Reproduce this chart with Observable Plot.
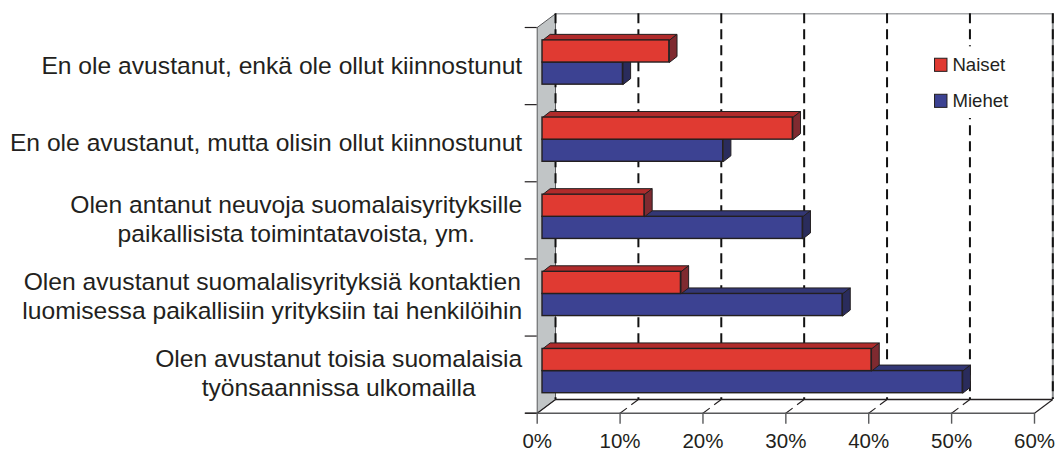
<!DOCTYPE html>
<html><head><meta charset="utf-8">
<script src="https://cdn.jsdelivr.net/npm/d3@7"></script>
<script src="https://cdn.jsdelivr.net/npm/@observablehq/plot@0.6"></script>
<style>html,body{margin:0;padding:0;background:#fff}svg{display:block}</style>
</head><body><div id="chart"></div>
<script>
const labelLines = [
  ["En ole avustanut, enkä ole ollut kiinnostunut"],
  ["En ole avustanut, mutta olisin ollut kiinnostunut"],
  ["Olen antanut neuvoja suomalaisyrityksille","paikallisista toimintatavoista, ym."],
  ["Olen avustanut suomalalisyrityksiä kontaktien","luomisessa paikallisiin yrityksiin tai henkilöihin"],
  ["Olen avustanut toisia suomalaisia","työnsaannissa ulkomailla"]
];
const naiset = [15.3, 30.2, 12.3, 16.7, 39.7];
const miehet = [9.7, 21.8, 31.4, 36.2, 50.7];
const xTicks = [0, 10, 20, 30, 40, 50, 60];
const yTicks = [0, 1, 2, 3, 4, 5];
const seriesNames = ["Naiset", "Miehet"];

const FONT = '"Liberation Sans", Arial, sans-serif';
const C = {ink:"#231f20", line:"#58595b", wall:"#c1c5c6",
  red:"#e03a32", redTop:"#b02b2b", redSide:"#7f2a30",
  blue:"#3c4292", blueTop:"#333775", blueSide:"#2a2c5c"};

const xRange = [536.7, 1034], yRange = [27, 412.7];
const backX = 2.21, backY = 0.178;          // depth of the box, in scale units
const barX = 0.64, barY = 0.046;            // bars start this far into the box
const depthX = 0.93, depthY = 0.078;        // depth of each bar
const barH = 0.287;

function bars(values, sign, order){
  return values.map((v,i)=>{
    const x0 = barX, x1 = barX+v, c = i+0.5-barY;
    const y0 = sign<0 ? c-barH : c, y1 = sign<0 ? c : c+barH;
    return {id:order+i, x0, x1, y0, y1,
      top:[[x0,y0],[x0+depthX,y0-depthY],[x1+depthX,y0-depthY],[x1,y0],[x0,y0]],
      side:[[x1,y0],[x1+depthX,y0-depthY],[x1+depthX,y1-depthY],[x1,y1],[x1,y0]]};
  });
}
const flat = (rows,key)=>rows.flatMap(r=>r[key].map(p=>({id:r.id,x:p[0],y:p[1]})));
const red = bars(naiset,-1,"n"), blue = bars(miehet,1,"m");

function barMarks(rows, front, top, side){
  return [
    Plot.line(flat(rows,"top"),{x:"x",y:"y",z:"id",fill:top,stroke:C.ink,strokeWidth:1,curve:"linear"}),
    Plot.line(flat(rows,"side"),{x:"x",y:"y",z:"id",fill:side,stroke:C.ink,strokeWidth:1,curve:"linear"}),
    Plot.rect(rows,{x1:"x0",x2:"x1",y1:"y0",y2:"y1",fill:front,stroke:C.ink,strokeWidth:1.4})
  ];
}

const ctx = document.createElement("canvas").getContext("2d");
const LABEL_SIZE = 24.65;
ctx.font = `${LABEL_SIZE}px "Liberation Sans"`;
const RIGHT_GAP = 15, LEADING = 29;
const labelMarks = labelLines.flatMap((lines,i)=>{
  const w = Math.max(...lines.map(s=>ctx.measureText(s).width));
  return lines.map((s,j)=>Plot.text([s],{
    x:()=>0, y:()=>i+0.5+ (lines.length>1?-0.01:0), text:d=>d,
    dx:-(RIGHT_GAP+w/2), dy:(j-(lines.length-1)/2)*LEADING,
    textAnchor:"middle", fontSize:LABEL_SIZE, fill:C.ink, fontFamily:FONT}));
});

const wall = [[0,0],[backX,-backY],[backX,5-backY],[0,5],[0,0]].map(p=>({x:p[0],y:p[1]}));
const legendRows = seriesNames.map((name,i)=>({name,i}));

const chart = Plot.plot({
  width:1055, height:451,
  marginLeft:xRange[0], marginRight:1055-xRange[1], marginTop:yRange[0], marginBottom:451-yRange[1],
  style:{background:"#fff", overflow:"visible", fontFamily:FONT},
  x:{domain:[0,60], range:xRange, axis:null},
  y:{domain:[0,5], range:yRange, axis:null},
  marks:[
    Plot.line(wall,{x:"x",y:"y",fill:C.wall,stroke:C.line,strokeWidth:1,curve:"linear"}),
    Plot.ruleY([-backY],{x1:backX,x2:60+backX,stroke:"#a9abae",strokeWidth:1.5}),
    Plot.ruleY([5-backY],{x1:backX,x2:60+backX,stroke:C.ink,strokeWidth:1.5}),
    Plot.ruleX([60],{x:d=>d+backX,y1:-backY,y2:5-backY,stroke:"#8a8c8e",strokeWidth:2}),
    Plot.ruleX(xTicks,{x:d=>d+backX,y1:-backY,y2:5-backY,stroke:"#111",strokeWidth:2,strokeDasharray:"10,6"}),
    Plot.link(xTicks.filter(d=>d===0||d===60),{x1:d=>d,y1:()=>5,x2:d=>d+backX,y2:()=>5-backY,stroke:C.ink,strokeWidth:1.1}),
    Plot.link(xTicks.filter(d=>d!==0&&d!==60),{x1:d=>d,y1:()=>5,x2:d=>d+backX,y2:()=>5-backY,stroke:C.ink,strokeWidth:1.1,strokeDasharray:"8.5,5.5"}),
    Plot.ruleY([5],{x1:-1.4,x2:60,stroke:C.line,strokeWidth:1.6}),
    Plot.axisY(yTicks,{anchor:"left",tickSize:12,tickFormat:()=>"",stroke:C.ink,strokeWidth:1.2}),
    Plot.axisX(xTicks,{anchor:"bottom",tickSize:11,tickPadding:9,tickFormat:d=>d+"%",fontSize:20.5,stroke:C.line,strokeWidth:1.4,fill:C.ink,fontFamily:FONT}),
    // legend
    Plot.rect([0],{x1:()=>46.6,x2:()=>58,y1:()=>0.25,y2:()=>1.18,fill:"#fff"}),
    Plot.rect(legendRows,{x1:()=>48,x2:()=>49.5,y1:d=>0.405+d.i*0.467,y2:d=>0.575+d.i*0.467,
      fill:d=>d.i?C.blue:C.red,stroke:C.ink,strokeWidth:1}),
    Plot.text(legendRows,{x:()=>50.1,y:d=>0.49+d.i*0.467,text:"name",textAnchor:"start",fontSize:18.6,fill:C.ink,fontFamily:FONT}),
    ...barMarks(blue,C.blue,C.blueTop,C.blueSide),
    ...barMarks(red,C.red,C.redTop,C.redSide),
    ...labelMarks
  ]
});
document.getElementById("chart").append(chart);
</script></body></html>
